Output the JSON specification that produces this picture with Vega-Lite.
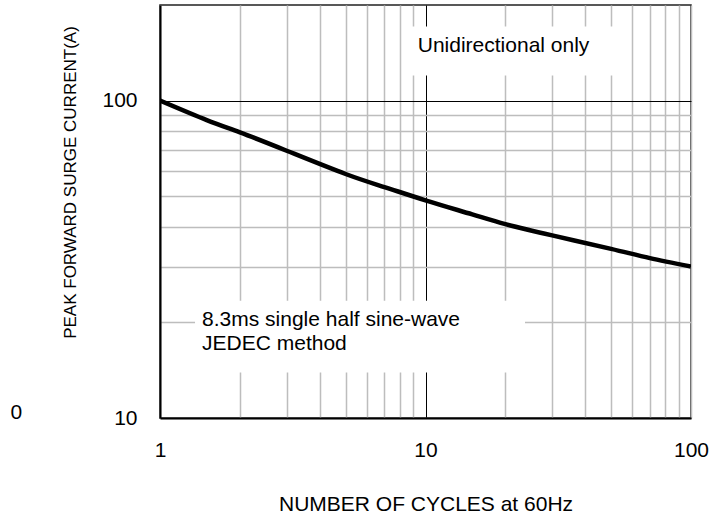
{
  "$schema": "https://vega.github.io/schema/vega-lite/v6.json",
  "width": 531,
  "height": 413,
  "autosize": {"type": "none"},
  "padding": {"left": 160, "top": 5, "right": 35, "bottom": 101},
  "background": "white",
  "config": {
    "view": {"stroke": "#222222", "strokeWidth": 1.5},
    "font": "Liberation Sans"
  },
  "datasets": {
    "curve": [
      {"x": 1, "y": 100},
      {"x": 1.5, "y": 86.8},
      {"x": 2, "y": 79.4},
      {"x": 3, "y": 69.5},
      {"x": 5, "y": 58.7},
      {"x": 7, "y": 53.4},
      {"x": 10, "y": 48.5},
      {"x": 15, "y": 43.8},
      {"x": 20, "y": 40.8},
      {"x": 30, "y": 37.6},
      {"x": 50, "y": 34.1},
      {"x": 70, "y": 31.9},
      {"x": 100, "y": 30}
    ],
    "boxes": [
      {"x": 8.37, "x2": 56.4, "y": 120, "y2": 171},
      {"x": 1.355, "x2": 23.7, "y": 13.9, "y2": 23.4}
    ],
    "notes": [
      {"x": 9.35, "y": 149, "text": "Unidirectional only"},
      {"x": 1.44, "y": 20.4, "text": "8.3ms single half sine-wave"},
      {"x": 1.44, "y": 17.1, "text": "JEDEC method"}
    ],
    "stray": [
      {"x": 0.288, "y": 10.37, "text": "0"}
    ]
  },
  "encoding": {
    "x": {
      "field": "x", "type": "quantitative",
      "scale": {"type": "log", "domain": [1, 100], "nice": false, "zero": false},
      "axis": {
        "title": "NUMBER OF CYCLES at 60Hz",
        "values": [1, 2, 3, 4, 5, 6, 7, 8, 9, 10, 20, 30, 40, 50, 60, 70, 80, 90, 100],
        "labelExpr": "datum.value === 1 || datum.value === 10 || datum.value === 100 ? format(datum.value, 'd') : ''",
        "labelFont": "Liberation Sans",
        "labelFontSize": 21,
        "labelColor": "black",
        "labelPadding": 21,
        "labelOverlap": false,
        "labelFlush": false,
        "labelBound": false,
        "ticks": false,
        "domainColor": "black",
        "domainWidth": 2,
        "grid": true,
        "gridColor": {"condition": {"test": "datum.value === 10", "value": "black"}, "value": "#bdbdbd"},
        "gridWidth": {"condition": {"test": "datum.value === 10", "value": 1}, "value": 1.5},
        "gridOpacity": 1,
        "titleFont": "Liberation Sans",
        "titleFontSize": 21,
        "titleFontWeight": "normal",
        "titleColor": "black",
        "titleY": 86,
        "titleBaseline": "middle"
      }
    },
    "y": {
      "field": "y", "type": "quantitative",
      "scale": {"type": "log", "domain": [10, 200], "nice": false, "zero": false},
      "axis": {
        "title": "PEAK FORWARD SURGE CURRENT(A)",
        "values": [10, 20, 30, 40, 50, 60, 70, 80, 90, 100],
        "labelExpr": "datum.value === 10 || datum.value === 100 ? format(datum.value, 'd') : ''",
        "labelFont": "Liberation Sans",
        "labelFontSize": 21,
        "labelColor": "black",
        "labelPadding": 23,
        "labelOverlap": false,
        "labelFlush": false,
        "labelBound": false,
        "ticks": false,
        "domainColor": "black",
        "domainWidth": 2,
        "grid": true,
        "gridColor": {"condition": {"test": "datum.value === 100", "value": "black"}, "value": "#bdbdbd"},
        "gridWidth": {"condition": {"test": "datum.value === 100", "value": 1}, "value": 1.5},
        "gridOpacity": 1,
        "titleFont": "Liberation Sans",
        "titleFontSize": 17,
        "titleFontWeight": "normal",
        "titleColor": "black",
        "titleAngle": -90,
        "titleX": -90,
        "titleY": 177,
        "titleAlign": "center",
        "titleBaseline": "middle"
      }
    }
  },
  "layer": [
    {
      "data": {"name": "boxes"},
      "mark": {"type": "rect", "fill": "white", "stroke": null},
      "encoding": {
        "x2": {"field": "x2"},
        "y2": {"field": "y2"}
      }
    },
    {
      "data": {"name": "curve"},
      "mark": {"type": "line", "color": "black", "strokeWidth": 4.5, "interpolate": "natural", "clip": true},
      "encoding": {}
    },
    {
      "data": {"name": "notes"},
      "mark": {"type": "text", "align": "left", "baseline": "middle", "font": "Liberation Sans", "fontSize": 21, "color": "black"},
      "encoding": {
        "text": {"field": "text"}
      }
    },
    {
      "data": {"name": "stray"},
      "mark": {"type": "text", "align": "center", "baseline": "middle", "font": "Liberation Sans", "fontSize": 21, "color": "black"},
      "encoding": {
        "text": {"field": "text"}
      }
    }
  ]
}
